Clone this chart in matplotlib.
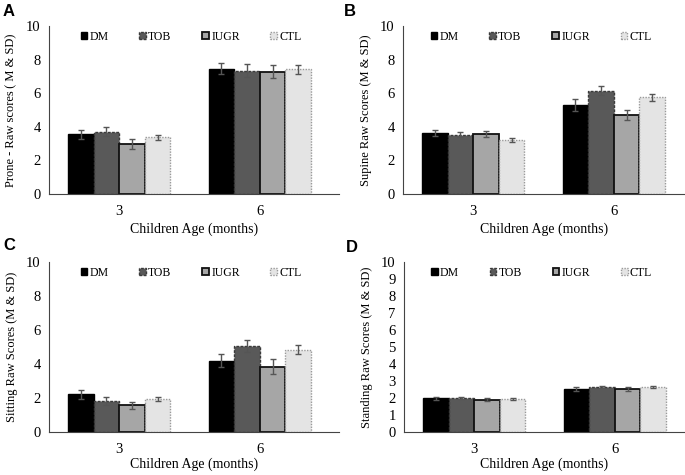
import numpy as np
import matplotlib
matplotlib.use("Agg")
import matplotlib.pyplot as plt

plt.rcParams['font.family'] = ['Liberation Serif', 'DejaVu Serif']

# Data
ages = ["3", "6"]
groups = ["DM", "TOB", "IUGR", "CTL"]

prone_mean = [[3.55, 3.72, 2.97, 3.38], [7.47, 7.34, 7.29, 7.43]]
prone_sd = [[0.28, 0.25, 0.32, 0.16], [0.32, 0.37, 0.40, 0.27]]

supine_mean = [[3.65, 3.53, 3.57, 3.21], [5.30, 6.14, 4.70, 5.75]]
supine_sd = [[0.18, 0.14, 0.20, 0.14], [0.36, 0.27, 0.32, 0.21]]

sitting_mean = [[2.22, 1.80, 1.56, 1.95], [4.20, 5.06, 3.85, 4.85]]
sitting_sd = [[0.25, 0.23, 0.19, 0.11], [0.38, 0.36, 0.46, 0.26]]

standing_mean = [[1.98, 2.00, 1.90, 1.93], [2.53, 2.63, 2.53, 2.63]]
standing_sd = [[0.08, 0.08, 0.10, 0.05], [0.12, 0.07, 0.10, 0.06]]

panels = [
    ("A", "Prone - Raw scores\u2009( M & SD)", prone_mean, prone_sd, 2),
    ("B", "Supine Raw Scores (M & SD)", supine_mean, supine_sd, 2),
    ("C", "Sitting Raw Scores (M & SD)", sitting_mean, sitting_sd, 2),
    ("D", "Standing Raw Scores (M & SD)", standing_mean, standing_sd, 1),
]

face = ["#000000", "#595959", "#a6a6a6", "#e4e4e4"]
edge = ["#000000", "#3a3a3a", "#111111", "#9a9a9a"]
lstyle = ["solid", (0, (2, 1)), "solid", (0, (1, 1))]
lwidth = [1.0, 1.0, 1.3, 1.0]

W, H = 685, 475
# axes boxes in pixels: left, top, right, bottom
boxes = [(49, 26, 339, 194), (403, 26, 685, 194),
         (49, 262, 339, 432), (404, 262, 685, 432)]
letter_pos = [(3, 4), (344, 4), (3, 238), (346, 240)]
xlab_pad = [3, 3, 1, 1]
px_per_cat = 140.5

fig = plt.figure(figsize=(W / 100, H / 100), dpi=100)
bw = 0.182
for (letter, ylab, mean, sd, step), box, lp, xp in zip(panels, boxes, letter_pos, xlab_pad):
    l, t, r, b = box
    ax = fig.add_axes([l / W, 1 - b / H, (r - l) / W, (b - t) / H])
    x = np.arange(len(ages))
    for i, g in enumerate(groups):
        vals = [mean[k][i] for k in range(len(ages))]
        errs = [sd[k][i] for k in range(len(ages))]
        ax.bar(x + (i - 1.5) * bw, vals, bw, color=face[i], edgecolor=edge[i],
               linestyle=lstyle[i], linewidth=lwidth[i], label=g,
               yerr=errs, error_kw=dict(ecolor="#555555", elinewidth=1.0,
                                        capsize=2.5, capthick=1.0))
    ax.set_xlim(-0.5, -0.5 + (r - l) / px_per_cat)
    ax.set_ylim(0, 10)
    ax.set_yticks(np.arange(0, 10.1, step))
    ax.set_xticks(x)
    ax.set_xticklabels(ages)
    ax.tick_params(length=0, labelsize=10.5, pad=6)
    ax.tick_params(axis="x", pad=8)
    for s in ["top", "right"]:
        ax.spines[s].set_visible(False)
    ax.spines["left"].set_color("#444444")
    ax.spines["bottom"].set_color("#444444")
    ax.set_xlabel("Children Age (months)", fontsize=10, labelpad=xp)
    ax.set_ylabel(ylab, fontsize=9, labelpad=6)
    ax.legend(loc="center", bbox_to_anchor=(0.49, 0.935), ncol=4, frameon=False,
              fontsize=8.5, handlelength=0.55, handleheight=0.55,
              handletextpad=0.2, columnspacing=2.6)
    fig.text(lp[0] / W, 1 - lp[1] / H, letter, family="Liberation Sans",
             fontweight="bold", fontsize=12, va="top", ha="left")

fig.savefig("out.png", dpi=100)
